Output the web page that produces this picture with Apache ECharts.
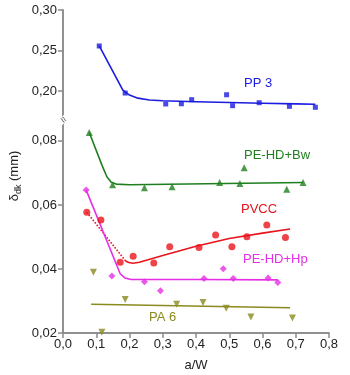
<!DOCTYPE html>
<html><head><meta charset="utf-8">
<script src="https://cdn.jsdelivr.net/npm/echarts@6/dist/echarts.min.js"></script>
<style>html,body{margin:0;padding:0;background:#fff}#c{width:350px;height:375px}</style>
</head><body><div id="c"></div>
<script>
// ---- data ----
const xTicks = [0, 0.1, 0.2, 0.3, 0.4, 0.5, 0.6, 0.7, 0.8];
const yTicksUpper = [0.20, 0.25, 0.30];
const yTicksLower = [0.02, 0.04, 0.06, 0.08];

const pp3Pts = [[0.109,0.2556],[0.187,0.1975],[0.309,0.1840],[0.356,0.1843],[0.387,0.1893],[0.492,0.1954],[0.510,0.1819],[0.590,0.1856],[0.681,0.1811],[0.759,0.1799]];
const pp3Fit = [[0.109,0.2556],[0.180,0.2010],[0.200,0.1950],[0.225,0.1912],[0.26,0.1890],[0.30,0.1879],[0.40,0.1868],[0.5,0.1858],[0.6,0.1849],[0.7,0.1841],[0.759,0.1836]];

const bwPts = [[0.079,0.0826],[0.149,0.0663],[0.245,0.0654],[0.328,0.0657],[0.471,0.0670],[0.532,0.0667],[0.545,0.0716],[0.673,0.0649],[0.722,0.0670]];
const bwFit = [[0.079,0.0826],[0.118,0.0722],[0.132,0.0688],[0.145,0.0671],[0.160,0.0665],[0.20,0.0663],[0.722,0.0670]];

const pvccPts = [[0.0715,0.0577],[0.114,0.0553],[0.172,0.0421],[0.211,0.0440],[0.273,0.0419],[0.321,0.0469],[0.409,0.0467],[0.459,0.0506],[0.508,0.0469],[0.553,0.0501],[0.613,0.0537],[0.669,0.0498]];
const pvccDotted = [[0.0715,0.0577],[0.188,0.0425]];
const pvccFit = [[0.188,0.0425],[0.198,0.0420],[0.210,0.0418],[0.230,0.0421],[0.30,0.0442],[0.40,0.0471],[0.50,0.0495],[0.60,0.0512],[0.683,0.0525]];

const hpPts = [[0.0695,0.0647],[0.147,0.0378],[0.245,0.0360],[0.293,0.0332],[0.424,0.0370],[0.482,0.0401],[0.512,0.0370],[0.617,0.0372],[0.646,0.0358]];
const hpFit = [[0.0695,0.0647],[0.172,0.0385],[0.186,0.0372],[0.205,0.0367],[0.40,0.0367],[0.646,0.0366]];

const pa6Pts = [[0.0916,0.0390],[0.117,0.0202],[0.187,0.0305],[0.342,0.0290],[0.421,0.0295],[0.491,0.0277],[0.565,0.0250],[0.690,0.0247]];
const pa6Fit = [[0.0846,0.0290],[0.683,0.0279]];

const C = {pp3:'#1c1ce0', bw:'#1f7f1f', pvcc:'#e8141c', hp:'#e62ee6', pa6:'#8a8a1e'};
const FONT = 'Liberation Sans, Arial, sans-serif';
const AX = '#8a8a8a';
const fmt = v => (Math.round(v*100)/100).toFixed(2).replace('.', ',');

const chart = echarts.init(document.getElementById('c'));
const L = 63, R = 21;
function yAx(gi, min, max, ticks) {
  return {gridIndex: gi, type: 'value', min, max,
    axisLine: {show: true, onZero: false, lineStyle: {color: AX, width: 1.5}},
    axisTick: {show: true, customValues: ticks, length: 5, lineStyle: {color: AX, width: 1.5}},
    axisLabel: {show: true, customValues: ticks, formatter: fmt, color: '#222', fontSize: 13, fontFamily: FONT, margin: 6},
    splitLine: {show: false}};
}
function scat(name, data, color, symbol, size, xi, yi, rot) {
  return {type: 'scatter', name, data, xAxisIndex: xi, yAxisIndex: yi, symbol, symbolSize: size,
    symbolRotate: rot || 0, itemStyle: {color}, z: 3, silent: true};
}
function line(data, color, xi, yi, dotted) {
  return {type: 'line', data, xAxisIndex: xi, yAxisIndex: yi, showSymbol: false, symbol: 'none',
    smooth: false, lineStyle: {color, width: 1.6, type: dotted ? 'dotted' : 'solid', join: 'round'},
    z: 2, silent: true};
}
chart.setOption({
  animation: false,
  grid: [
    {left: L, right: R, top: 122, bottom: 42, outerBoundsMode: 'none'},
    {left: L, right: R, top: 10, height: 108, outerBoundsMode: 'none'},
    {left: L, right: R, top: 10, bottom: 42, outerBoundsMode: 'none'}
  ],
  xAxis: [
    {gridIndex: 0, type: 'value', min: 0, max: 0.8, interval: 0.1,
      axisLine: {show: true, onZero: false, lineStyle: {color: AX, width: 1.5}},
      axisTick: {show: true, length: 5, lineStyle: {color: AX, width: 1.5}},
      axisLabel: {color: '#222', fontSize: 13, fontFamily: FONT, margin: 5,
        formatter: v => v.toFixed(1).replace('.', ',')},
      splitLine: {show: false},
      name: 'a/W', nameLocation: 'middle', nameGap: 26,
      nameTextStyle: {color: '#222', fontSize: 13, fontFamily: FONT}},
    {gridIndex: 1, type: 'value', min: 0, max: 0.8, show: false},
    {gridIndex: 2, type: 'value', min: 0, max: 1, position: 'top',
      axisLine: {show: true, lineStyle: {color: AX, width: 1.5}}, axisTick: {show: false},
      axisLabel: {show: false}, splitLine: {show: false}}
  ],
  yAxis: [
    yAx(0, 0.02, 0.0859, yTicksLower),
    yAx(1, 0.1667, 0.30, yTicksUpper),
    {gridIndex: 2, type: 'value', min: 0, max: 1, position: 'right',
      axisLine: {show: true, lineStyle: {color: AX, width: 1.5}}, axisTick: {show: false},
      axisLabel: {show: false}, splitLine: {show: false}}
  ],
  series: [
    line(pp3Fit, C.pp3, 1, 1),
    scat('PP 3', pp3Pts, C.pp3, 'rect', 5, 1, 1),
    line(bwFit, C.bw, 0, 0),
    scat('PE-HD+Bw', bwPts, C.bw, 'triangle', 7, 0, 0),
    line(pvccDotted, C.pvcc, 0, 0, true),
    line(pvccFit, C.pvcc, 0, 0),
    scat('PVCC', pvccPts, C.pvcc, 'circle', 7, 0, 0),
    line(hpFit, C.hp, 0, 0),
    scat('PE-HD+Hp', hpPts, C.hp, 'diamond', 7, 0, 0),
    line(pa6Fit, C.pa6, 0, 0),
    scat('PA 6', pa6Pts, C.pa6, 'triangle', 7, 0, 0, 180)
  ],
  graphic: [
    {type: 'text', left: 244, top: 77, style: {text: 'PP 3', fill: C.pp3, fontSize: 13, fontFamily: FONT}},
    {type: 'text', left: 244, top: 149, style: {text: 'PE-HD+Bw', fill: C.bw, fontSize: 13, fontFamily: FONT}},
    {type: 'text', left: 241, top: 203, style: {text: 'PVCC', fill: C.pvcc, fontSize: 13, fontFamily: FONT}},
    {type: 'text', left: 243, top: 253, style: {text: 'PE-HD+Hp', fill: C.hp, fontSize: 13, fontFamily: FONT}},
    {type: 'text', left: 149, top: 311, style: {text: 'PA 6', fill: C.pa6, fontSize: 13, fontFamily: FONT}},
    {type: 'text', x: 63, y: 120, rotation: -Math.PI / 4, z: 10,
      style: {text: '≈', fill: '#555', fontSize: 11, fontFamily: FONT, align: 'center', verticalAlign: 'middle', backgroundColor: '#fff'}},
    {type: 'text', x: 14, y: 176, rotation: Math.PI / 2, z: 10,
      style: {text: '{a|δ}{b|dk}{a| (mm)}', align: 'center', verticalAlign: 'middle',
        rich: {a: {fontSize: 13, fontFamily: FONT, fill: '#222', lineHeight: 18},
               b: {fontSize: 9, fontFamily: FONT, fill: '#222', lineHeight: 18, verticalAlign: 'bottom', padding: [7, 0, 0, 0]}}}}
  ]
});
</script></body></html>
